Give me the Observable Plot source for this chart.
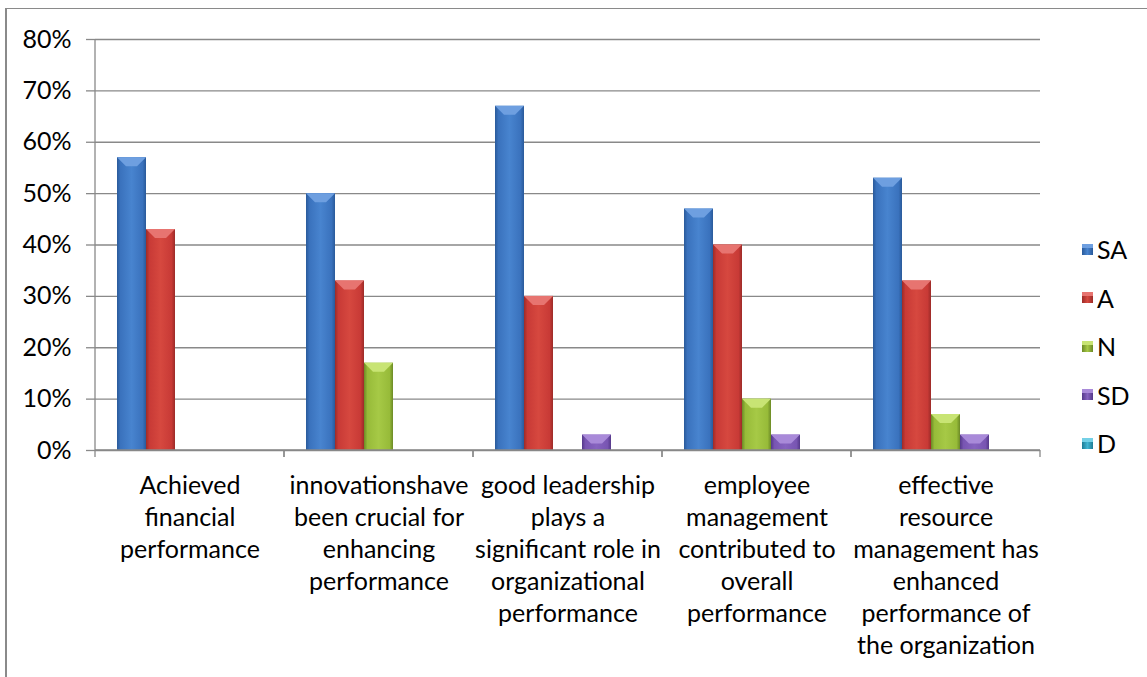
<!DOCTYPE html>
<html>
<head>
<meta charset="utf-8">
<script src="https://cdn.jsdelivr.net/npm/d3@7"></script>
<script src="https://cdn.jsdelivr.net/npm/@observablehq/plot@0.6"></script>
<style>
  html, body { margin: 0; padding: 0; background: #fff; }
  #chart { position: relative; width: 1147px; height: 677px; overflow: hidden; font-family: Lato, sans-serif; }
  #border { position: absolute; left: 5px; top: 8px; width: 1300px; height: 900px;
            border-top: 1px solid #8a8a8a; border-left: 2px solid #8a8a8a; }
  #plot { position: absolute; left: 0; top: 0; }
  .legend-item { position: absolute; left: 1082px; height: 30px; display: flex; align-items: center;
                 font-size: 25px; color: #000; }
  .legend-swatch { width: 11px; height: 11px; margin-right: 4px; position: relative; }
</style>
</head>
<body>
<div id="chart">
  <div id="border"></div>
  <div id="plot"></div>
</div>
<script>
// Survey responses per statement (share of respondents)
const categories = [
  "Achieved financial performance",
  "innovationshave been crucial for enhancing performance",
  "good leadership plays a significant role in organizational performance",
  "employee management contributed to overall performance",
  "effective resource management has enhanced performance of the organization"
];
const categoryLines = [
  ["Achieved", "financial", "performance"],
  ["innovationshave", "been crucial for", "enhancing", "performance"],
  ["good leadership", "plays a", "significant role in", "organizational", "performance"],
  ["employee", "management", "contributed to", "overall", "performance"],
  ["effective", "resource", "management has", "enhanced", "performance of", "the organization"]
];
const series = ["SA", "A", "N", "SD", "D"];
const saValues = [0.57, 0.50, 0.67, 0.47, 0.53];
const aValues  = [0.43, 0.33, 0.30, 0.40, 0.33];
const nValues  = [0.00, 0.17, 0.00, 0.10, 0.07];
const sdValues = [0.00, 0.00, 0.03, 0.03, 0.03];
const dValues  = [0.00, 0.00, 0.00, 0.00, 0.00];
const yTicks = [0, 0.1, 0.2, 0.3, 0.4, 0.5, 0.6, 0.7, 0.8];

// Bar shading: [edge, body, centre, bevel top]
const shades = {
  SA: ["#2a5a9a", "#3a72bd", "#4884cf", "#6e9fe0"],
  A:  ["#9c2b28", "#c83a36", "#d6483f", "#e77470"],
  N:  ["#6c8a26", "#97bb39", "#a6c946", "#c8e474"],
  SD: ["#55398a", "#7855b2", "#8663bf", "#a98ad9"],
  D:  ["#1d7c95", "#31a6c4", "#42b5d2", "#74d0e6"]
};
const gridColor = "#898989";

const valuesBySeries = {SA: saValues, A: aValues, N: nValues, SD: sdValues, D: dValues};
const rows = categories.flatMap((c, i) =>
  series.map(s => ({category: c, series: s, value: valuesBySeries[s][i]})));
const bars = rows.filter(d => d.value > 0);
const labelText = new Map(categories.map((c, i) => [c, categoryLines[i].join("\n")]));

// Adds the lighter bevelled cap on top of each bar
function bevelled(index, scales, values, dims, ctx, next) {
  const g = next(index, scales, values, dims, ctx);
  const rects = Array.from(g.querySelectorAll("rect"));
  rects.forEach((r, j) => {
    const d = bars[index[j]];
    const x = +r.getAttribute("x"), y = +r.getAttribute("y");
    const w = +r.getAttribute("width"), h = +r.getAttribute("height");
    const b = Math.min(9, h, w / 2);
    const p = ctx.document.createElementNS("http://www.w3.org/2000/svg", "polygon");
    p.setAttribute("points", `${x},${y} ${x + w},${y} ${x + w - b},${y + b} ${x + b},${y + b}`);
    p.setAttribute("fill", shades[d.series][3]);
    g.appendChild(p);
  });
  return g;
}

// Value axis line, category baseline and the category boundary ticks
function axisFrame(index, scales, values, dims) {
  const left = dims.marginLeft, right = dims.width - dims.marginRight;
  const y0 = scales.y(0), yTop = scales.y(d3.max(yTicks));
  const g = d3.create("svg:g").attr("stroke", gridColor).attr("stroke-width", 1.3).attr("fill", "none");
  if (index.length && index[0] === 0) {
    g.append("line").attr("x1", left).attr("x2", left).attr("y1", yTop).attr("y2", y0);
  }
  g.append("line").attr("x1", left).attr("x2", right).attr("y1", y0).attr("y2", y0);
  for (const x of [left, right]) {
    g.append("line").attr("x1", x).attr("x2", x).attr("y1", y0).attr("y2", y0 + 7);
  }
  return g.node();
}

const svg = Plot.plot({
  width: 1147,
  height: 677,
  marginLeft: 95,
  marginRight: 107,
  marginTop: 39,
  marginBottom: 227,
  style: {fontFamily: "Lato, sans-serif", fontSize: "25px", background: "transparent", color: "#000", overflow: "visible"},
  fx: {domain: categories, padding: 0, axis: null},
  x: {domain: series, paddingInner: 0, paddingOuter: 0.75, axis: null},
  y: {domain: [0, 0.8], axis: null},
  color: {domain: series, range: series.map(s => `url(#bar-${s})`)},
  marks: [
    Plot.gridY(yTicks, {stroke: gridColor, strokeOpacity: 1, strokeWidth: 1.3}),
    Plot.axisY({ticks: yTicks, tickFormat: d3.format(".0%"), tickSize: 9, tickPadding: 15, label: null,
                stroke: gridColor, strokeWidth: 1.3, fill: "#000", fontSize: 25}),
    Plot.barY(bars, {fx: "category", x: "series", y: "value", fill: "series", render: bevelled}),
    Plot.ruleY(categories, {fx: d => d, y: () => 0, render: axisFrame}),
    Plot.text(categories, {fx: d => d, frameAnchor: "bottom", dy: 21, lineAnchor: "top",
                           lineHeight: 1.28, fontSize: 25, fill: "#000", text: d => labelText.get(d)})
  ]
});

// Horizontal shading for the bars
const defs = d3.select(svg).insert("defs", ":first-child");
for (const s of series) {
  const [edge, body, centre] = shades[s];
  const lg = defs.append("linearGradient").attr("id", `bar-${s}`)
    .attr("x1", 0).attr("x2", 1).attr("y1", 0).attr("y2", 0);
  [[0, edge], [0.12, body], [0.5, centre], [0.88, body], [1, edge]].forEach(([o, c]) =>
    lg.append("stop").attr("offset", o).attr("stop-color", c));
}
document.getElementById("plot").appendChild(svg);

// Legend on the right
const chart = document.getElementById("chart");
series.forEach((s, i) => {
  const [edge, body, centre, top] = shades[s];
  const item = document.createElement("div");
  item.className = "legend-item";
  item.style.top = (249 + i * 48.5 - 15) + "px";
  const sw = document.createElement("div");
  sw.className = "legend-swatch";
  sw.style.background = `linear-gradient(180deg, ${top} 0%, ${top} 35%, transparent 35%), linear-gradient(90deg, ${edge}, ${centre} 50%, ${edge})`;
  item.appendChild(sw);
  const label = document.createElement("span");
  label.textContent = s;
  item.appendChild(label);
  chart.appendChild(item);
});
</script>
</body>
</html>
